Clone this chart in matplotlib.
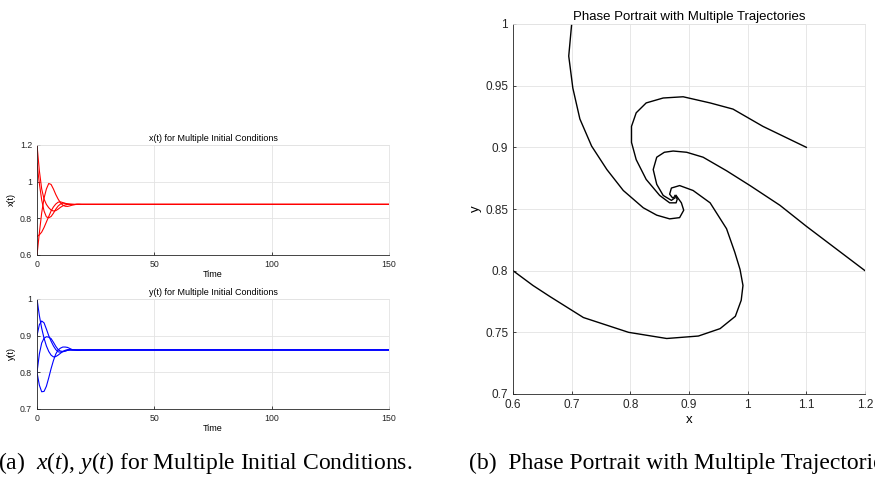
import matplotlib.pyplot as plt
import numpy as np

plt.rcParams['font.family'] = ['Liberation Sans', 'DejaVu Sans']
plt.rcParams['mathtext.fontset'] = 'custom'
plt.rcParams['mathtext.rm'] = 'Liberation Serif'
plt.rcParams['mathtext.it'] = 'Liberation Serif:italic'

# time samples, flat after ~t=25
t = [0, 1, 2, 3, 4, 5, 6, 7, 8, 9, 10, 11, 12, 13, 14, 15, 16, 17, 18, 19, 20, 25, 150]

# x(t) for the four initial conditions
xA = [0.700, 0.710, 0.725, 0.750, 0.780, 0.810, 0.840, 0.862, 0.878, 0.888, 0.890, 0.886,
      0.881, 0.878, 0.876, 0.875, 0.875, 0.876, 0.876, 0.876, 0.876, 0.876, 0.876]
xB = [1.100, 0.990, 0.900, 0.840, 0.808, 0.803, 0.810, 0.828, 0.850, 0.867, 0.878, 0.883,
      0.882, 0.879, 0.877, 0.876, 0.876, 0.876, 0.876, 0.876, 0.876, 0.876, 0.876]
xC = [1.200, 1.060, 0.960, 0.905, 0.876, 0.858, 0.845, 0.840, 0.842, 0.850, 0.860, 0.868,
      0.873, 0.876, 0.877, 0.877, 0.876, 0.876, 0.876, 0.876, 0.876, 0.876, 0.876]
xD = [0.600, 0.720, 0.830, 0.910, 0.960, 0.990, 0.985, 0.960, 0.930, 0.905, 0.885, 0.872,
      0.866, 0.865, 0.868, 0.872, 0.875, 0.877, 0.877, 0.876, 0.876, 0.876, 0.876]

# y(t) for the four initial conditions
yA = [1.000, 0.955, 0.920, 0.893, 0.872, 0.857, 0.847, 0.842, 0.843, 0.847, 0.852, 0.857,
      0.860, 0.862, 0.862, 0.861, 0.861, 0.861, 0.861, 0.861, 0.861, 0.861, 0.861]
yB = [0.900, 0.930, 0.940, 0.935, 0.918, 0.900, 0.885, 0.872, 0.862, 0.856, 0.855, 0.856,
      0.858, 0.860, 0.861, 0.861, 0.861, 0.861, 0.861, 0.861, 0.861, 0.861, 0.861]
yC = [0.800, 0.850, 0.880, 0.893, 0.897, 0.896, 0.892, 0.882, 0.871, 0.862, 0.858, 0.857,
      0.858, 0.860, 0.861, 0.861, 0.861, 0.861, 0.861, 0.861, 0.861, 0.861, 0.861]
yD = [0.800, 0.765, 0.747, 0.748, 0.762, 0.785, 0.810, 0.832, 0.850, 0.861, 0.866, 0.869,
      0.869, 0.868, 0.865, 0.862, 0.861, 0.860, 0.860, 0.861, 0.861, 0.861, 0.861]

# phase portrait trajectories (x, y)
phA_x = [0.700, 0.695, 0.702, 0.714, 0.734, 0.760, 0.788, 0.822, 0.845, 0.867, 0.884, 0.891, 0.887, 0.878]
phA_y = [1.000, 0.974, 0.948, 0.923, 0.901, 0.882, 0.865, 0.851, 0.845, 0.842, 0.843, 0.849, 0.855, 0.861]
phB_x = [1.100, 1.026, 0.975, 0.936, 0.890, 0.856, 0.827, 0.810, 0.802, 0.802, 0.810, 0.827, 0.850,
         0.867, 0.878, 0.880, 0.876]
phB_y = [0.900, 0.917, 0.931, 0.936, 0.941, 0.940, 0.936, 0.928, 0.917, 0.904, 0.890, 0.874, 0.861,
         0.855, 0.855, 0.858, 0.861]
phC_x = [1.200, 1.100, 1.055, 1.004, 0.964, 0.924, 0.896, 0.873, 0.858, 0.845, 0.839, 0.845, 0.856,
         0.870, 0.876]
phC_y = [0.800, 0.836, 0.853, 0.869, 0.881, 0.892, 0.896, 0.897, 0.896, 0.892, 0.882, 0.870, 0.861,
         0.857, 0.859]
phD_x = [0.600, 0.634, 0.663, 0.720, 0.797, 0.862, 0.916, 0.953, 0.979, 0.989, 0.992, 0.987, 0.978,
         0.964, 0.936, 0.907, 0.884, 0.870, 0.867, 0.872, 0.876]
phD_y = [0.800, 0.788, 0.779, 0.762, 0.750, 0.745, 0.747, 0.753, 0.763, 0.776, 0.788, 0.801, 0.815,
         0.834, 0.855, 0.865, 0.869, 0.867, 0.862, 0.859, 0.860]

W, H = 875, 491
fig = plt.figure(figsize=(W / 100, H / 100), dpi=100)


def box(l, t_, r, b):
    return [l / W, 1 - b / H, (r - l) / W, (b - t_) / H]


def matlab_style(ax, fs):
    ax.grid(True, color='#e3e3e3', lw=0.6)
    ax.set_axisbelow(True)
    for s in ['top', 'right']:
        ax.spines[s].set_color('#e3e3e3')
        ax.spines[s].set_linewidth(0.6)
    for s in ['left', 'bottom']:
        ax.spines[s].set_color('#262626')
        ax.spines[s].set_linewidth(0.6)
    ax.tick_params(direction='in', length=2.5, width=0.6, colors='#262626',
                   labelsize=fs, top=False, right=False)


ax1 = fig.add_axes(box(37, 145, 389, 255))
for xs in [xA, xB, xC, xD]:
    ax1.plot(t, xs, color='red', lw=0.8)
ax1.set_xlim(0, 150)
ax1.set_ylim(0.6, 1.2)
ax1.set_xticks([0, 50, 100, 150])
ax1.set_yticks([0.6, 0.8, 1.0, 1.2])
ax1.set_yticklabels(['0.6', '0.8', '1', '1.2'])
ax1.set_title('x(t) for Multiple Initial Conditions', fontsize=6.5, pad=3)
ax1.set_xlabel('Time', fontsize=6.5, labelpad=1)
ax1.set_ylabel('x(t)', fontsize=6.5, labelpad=3)
matlab_style(ax1, 6.3)

ax2 = fig.add_axes(box(37, 299, 389, 409))
for ys in [yA, yB, yC, yD]:
    ax2.plot(t, ys, color='blue', lw=0.8)
ax2.set_xlim(0, 150)
ax2.set_ylim(0.7, 1.0)
ax2.set_xticks([0, 50, 100, 150])
ax2.set_yticks([0.7, 0.8, 0.9, 1.0])
ax2.set_yticklabels(['0.7', '0.8', '0.9', '1'])
ax2.set_title('y(t) for Multiple Initial Conditions', fontsize=6.5, pad=3)
ax2.set_xlabel('Time', fontsize=6.5, labelpad=1)
ax2.set_ylabel('y(t)', fontsize=6.5, labelpad=3)
matlab_style(ax2, 6.3)

ax3 = fig.add_axes(box(513, 24, 865, 394))
for px, py in [(phA_x, phA_y), (phB_x, phB_y), (phC_x, phC_y), (phD_x, phD_y)]:
    ax3.plot(px, py, color='black', lw=1.0)
ax3.set_xlim(0.6, 1.2)
ax3.set_ylim(0.7, 1.0)
ax3.set_xticks(np.arange(0.6, 1.21, 0.1))
ax3.set_xticklabels(['0.6', '0.7', '0.8', '0.9', '1', '1.1', '1.2'])
ax3.set_yticks(np.arange(0.7, 1.001, 0.05))
ax3.set_yticklabels(['0.7', '0.75', '0.8', '0.85', '0.9', '0.95', '1'])
ax3.set_title('Phase Portrait with Multiple Trajectories', fontsize=9.5, pad=3)
ax3.set_xlabel('x', fontsize=9.5, labelpad=2)
ax3.set_ylabel('y', fontsize=9.5, labelpad=2)
matlab_style(ax3, 8.5)

fig.text(205 / W, 1 - 463 / H, r'(a)  $x(t)$, $y(t)$ for Multiple Initial Conditions.',
         ha='center', va='center', fontsize=17, family='Liberation Serif')
fig.text(684 / W, 1 - 463 / H, '(b)  Phase Portrait with Multiple Trajectories.',
         ha='center', va='center', fontsize=17, family='Liberation Serif')

fig.savefig('out.png', dpi=100)
